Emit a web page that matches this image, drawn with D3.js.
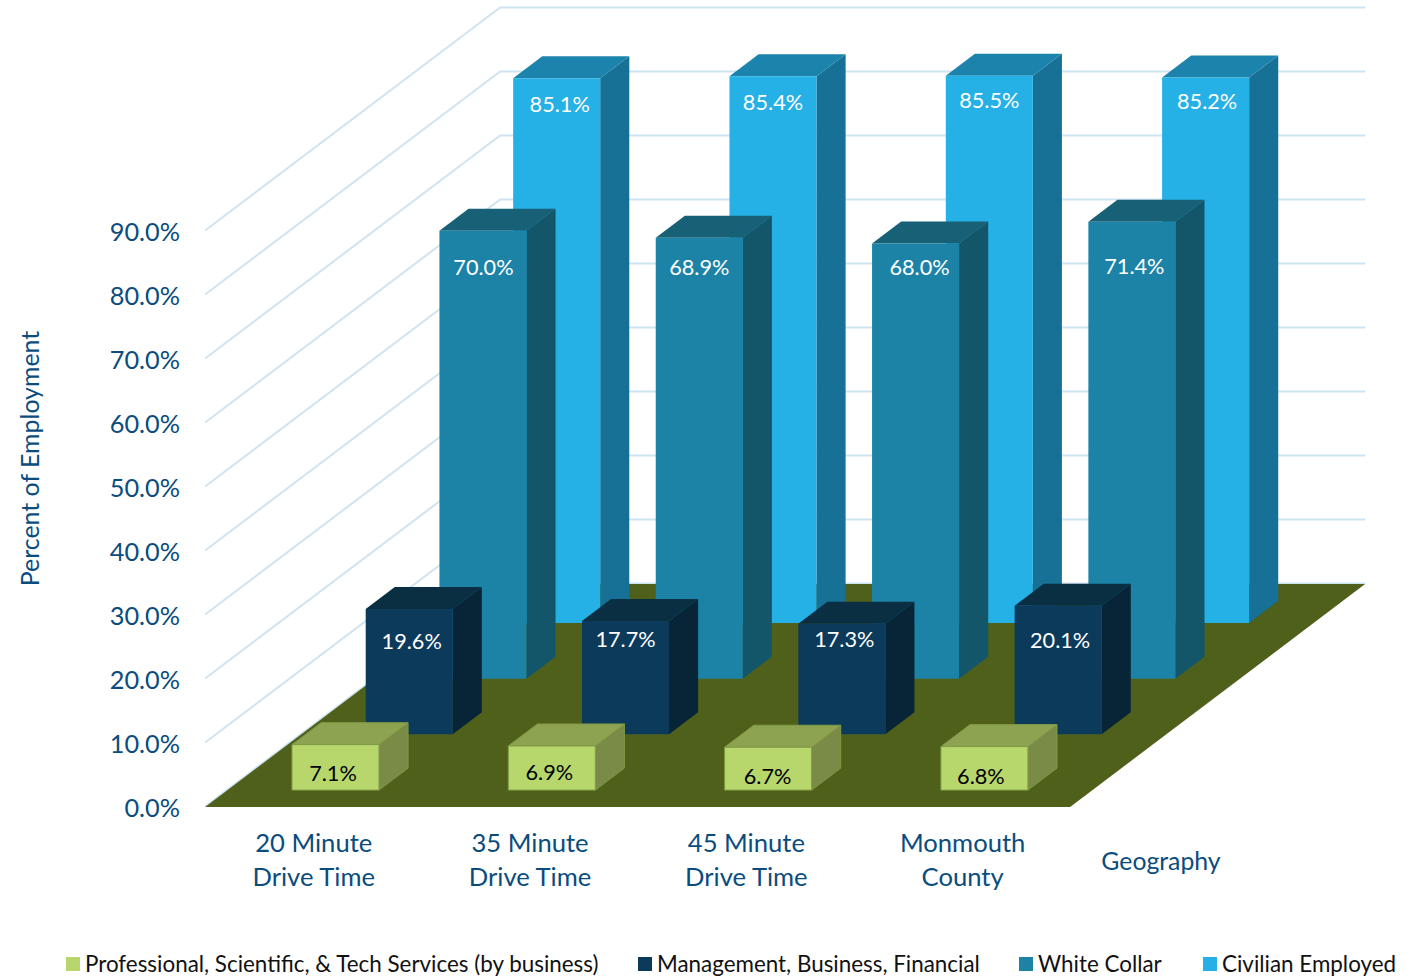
<!DOCTYPE html>
<html><head><meta charset="utf-8">
<script src="https://cdnjs.cloudflare.com/ajax/libs/d3/7.8.5/d3.min.js"></script>
<style>html,body{margin:0;padding:0;background:#fff}svg{display:block}text{font-family:Lato,"Open Sans",sans-serif}</style>
</head><body><svg id="c" width="1423" height="977"></svg>
<script>
const categories = ["20 Minute|Drive Time","35 Minute|Drive Time","45 Minute|Drive Time","Monmouth|County"];
const seriesNames = ["Professional, Scientific, & Tech Services (by business)","Management, Business, Financial","White Collar","Civilian Employed"];
const professional = [7.1,6.9,6.7,6.8];
const management = [19.6,17.7,17.3,20.1];
const whiteCollar = [70.0,68.9,68.0,71.4];
const civilian = [85.1,85.4,85.5,85.2];
const yTicks = [0,10,20,30,40,50,60,70,80,90];

const seriesValues = [professional, management, whiteCollar, civilian];
const looks = [
 {front:"#B7D76D",side:"#7A8B48",top:"#8DA352",stroke:"#7F9A45",text:"#000"},
 {front:"#0B3A5B",side:"#072537",top:"#0A2E42",stroke:"none",text:"#fff"},
 {front:"#1C83A6",side:"#13566A",top:"#186075",stroke:"none",text:"#fff"},
 {front:"#25B0E6",side:"#177095",top:"#1C83AD",stroke:"none",text:"#fff"}
];
// label layout (screen-space nudges, not data)
const labelY = [[773,772,776,776],[641,639,639,640],[267,267,267,266],[104,102,100,101]];
const labelDx = [[-2.5,-2.5,-0.5,-3.5],[2.5,0,2.5,2],[0.5,0,4,2.5],[3,0,0,1.5]];

const svg = d3.select("#c");
const ox=205.1, oy=807, floorW=865, depthH=223, depthW=295;
const x = d3.scaleBand().domain(categories).range([0,floorW]).paddingInner(129.25/216.25).paddingOuter(64.5/216.25);
const z = d3.scaleBand().domain(seriesNames).range([0,depthH]).paddingInner(33.75/55.75).paddingOuter(16.9/55.75);
const y = d3.scaleLinear().domain([0,90]).range([0,576]);
const sx = (px,pz)=> ox+px+pz*depthW/depthH;
const sy = (v,pz)=> oy-pz-y(v);
const P = (px,pz,v)=>[sx(px,pz),sy(v,pz)];
const poly = pts=>"M"+pts.map(p=>p.join(",")).join("L")+"Z";

// gridlines on wall
svg.append("g").attr("transform","translate(0,-0.5)").selectAll("path").data(yTicks).join("path")
  .attr("d",t=>d3.line()([P(0,0,t),P(0,depthH,t),P(floorW,depthH,t)]))
  .attr("fill","none").attr("stroke","#CFE4F3").attr("stroke-width",2);

// floor
svg.append("path").attr("d",poly([P(0,0,0),P(floorW,0,0),P(floorW,depthH,0),P(0,depthH,0)])).attr("fill","#4F601B");

// bars back to front
const bars = d3.range(3,-1,-1).flatMap(s=>categories.map((c,i)=>({s,c,i,v:seriesValues[s][i]})));
const bw=x.bandwidth(), bd=z.bandwidth();
const g = svg.append("g").selectAll("g").data(bars).join("g");
g.each(function(d){
  const sel=d3.select(this), L=looks[d.s], x0=x(d.c), x1=x0+bw, z0=z(seriesNames[d.s]), z1=z0+bd;
  const sw=L.stroke==="none"?0:1;
  sel.append("path").attr("d",poly([P(x1,z0,0),P(x1,z1,0),P(x1,z1,d.v),P(x1,z0,d.v)])).attr("fill",L.side).attr("stroke",L.stroke).attr("stroke-width",sw);
  sel.append("path").attr("d",poly([P(x0,z0,d.v),P(x1,z0,d.v),P(x1,z1,d.v),P(x0,z1,d.v)])).attr("fill",L.top).attr("stroke",L.stroke).attr("stroke-width",sw);
  sel.append("path").attr("d",poly([P(x0,z0,0),P(x1,z0,0),P(x1,z0,d.v),P(x0,z0,d.v)])).attr("fill",L.front).attr("stroke",L.stroke).attr("stroke-width",sw);
  sel.append("text").attr("x",sx(x0+bw/2,z0)+labelDx[d.s][d.i]).attr("y",labelY[d.s][d.i]).attr("dy","0.35em")
    .attr("text-anchor","middle").attr("font-size",21.7).attr("fill",L.text).text(d.v.toFixed(1)+"%");
});

// y axis
const blue="#0B4C7E";
const yAxisScale = d3.scaleLinear().domain([0,90]).range([oy+1,oy-575]);
const ax = svg.append("g").attr("transform","translate(180,0)")
  .call(d3.axisLeft(yAxisScale).tickValues(yTicks).tickSize(0).tickPadding(0).tickFormat(t=>t.toFixed(1)+"%"));
ax.select(".domain").remove();
ax.selectAll("text").attr("font-size",25.3).attr("fill",blue).style("font-family","Lato,sans-serif");

svg.append("text").attr("transform","translate(30,458.5) rotate(-90)").attr("text-anchor","middle").attr("dy","0.35em")
  .attr("font-size",24.9).attr("fill",blue).text("Percent of Employment");

// category labels
categories.forEach(c=>{
  const cx=205+x(c)+bw/2+0.7;
  c.split("|").forEach((line,k)=>svg.append("text").attr("x",cx).attr("y",843+k*34).attr("dy","0.35em")
    .attr("text-anchor","middle").attr("font-size",25.6).attr("fill",blue).text(line));
});
svg.append("text").attr("x",1161).attr("y",861).attr("dy","0.35em").attr("text-anchor","middle").attr("font-size",24.8).attr("fill",blue).text("Geography");

// legend
const legendX=[66,638,1019,1203];
seriesNames.forEach((n,i)=>{
  svg.append("rect").attr("x",legendX[i]).attr("y",957).attr("width",14).attr("height",14).attr("fill",looks[i].front);
  svg.append("text").attr("x",legendX[i]+19).attr("y",964).attr("dy","0.35em").attr("font-size",22.4).attr("fill","#111").text(n);
});
</script></body></html>
